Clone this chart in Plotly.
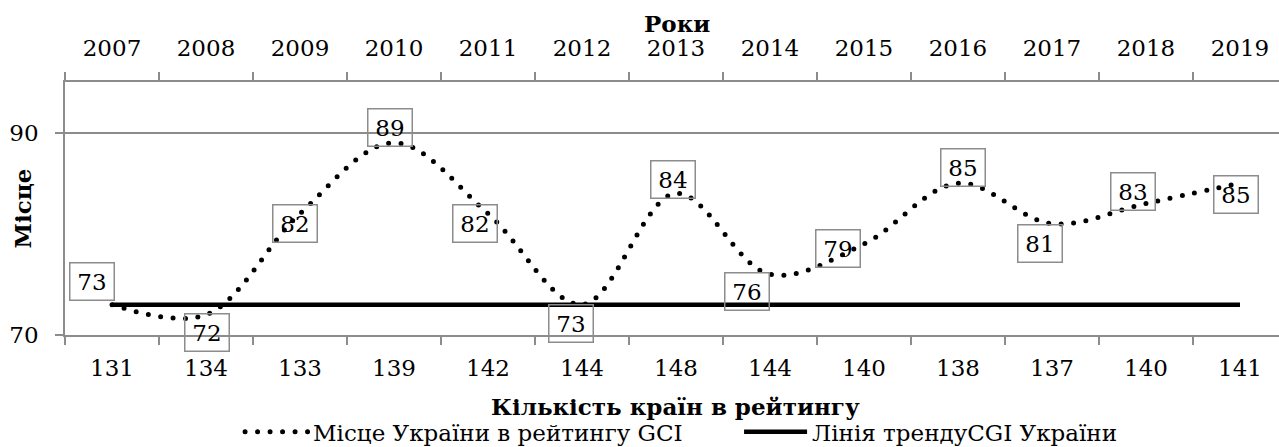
import plotly.graph_objects as go

# ---- data ----
years = ["2007", "2008", "2009", "2010", "2011", "2012", "2013",
         "2014", "2015", "2016", "2017", "2018", "2019"]
countries_in_rating = ["131", "134", "133", "139", "142", "144", "148",
                       "144", "140", "138", "137", "140", "141"]
gci_rank = [73, 72, 82, 89, 82, 73, 84, 76, 79, 85, 81, 83, 85]
trend_rank = [73, 73, 73, 73, 73, 73, 73, 73, 73, 73, 73, 73, 73]
series_names = ["Місце України в рейтингу GCI", "Лінія трендуCGI України"]
y_ticks = [70, 90]

# ---- label placement (screen px offsets, style only) ----
label_dx = [-20, 1, -5, -4, -13, -11, -3, -23, -26, 5, -12, -13, -4]
label_dy = [-23, 18, 10, -15, 10, 19, -14, 17, 5, -16, 20, -12, 11]

FONT = "DejaVu Serif"
FS = 23
GRAY = "#8c8c8c"

fig = go.Figure()
fig.add_trace(go.Scatter(
    x=years, y=gci_rank, name=series_names[0], mode="lines",
    line=dict(color="black", width=5, dash="5px,7.5px", shape="spline", smoothing=1),
    xaxis="x", yaxis="y", hoverinfo="skip",
))
fig.add_trace(go.Scatter(
    x=years, y=trend_rank, name=series_names[1], mode="lines",
    line=dict(color="black", width=4.5),
    xaxis="x2", yaxis="y", hoverinfo="skip",
))

for i, (v, dx, dy) in enumerate(zip(gci_rank, label_dx, label_dy)):
    fig.add_annotation(
        x=i, y=v, xref="x", yref="y", text=str(v), showarrow=False,
        xshift=dx, yshift=-dy, width=40, height=33,
        bordercolor=GRAY, borderwidth=1.5, borderpad=1.5,
        font=dict(family=FONT, size=FS, color="black"),
    )

# axis titles
fig.add_annotation(text="<b>Роки</b>", xref="paper", yref="paper", x=0.504, y=1.23,
                   showarrow=False, xanchor="center", yanchor="middle",
                   font=dict(family=FONT, size=FS, color="black"))
fig.add_annotation(text="<b>Кількість країн в рейтингу</b>", xref="paper", yref="paper",
                   x=0.503, y=-0.281, showarrow=False, xanchor="center", yanchor="middle",
                   font=dict(family=FONT, size=FS, color="black"))
fig.add_annotation(text="<b>Місце</b>", xref="paper", yref="paper", x=-0.0354, y=0.50,
                   textangle=-90, showarrow=False, xanchor="center", yanchor="middle",
                   font=dict(family=FONT, size=FS, color="black"))

axis_common = dict(
    type="category", categoryorder="array", categoryarray=years,
    tickson="boundaries", ticks="outside", ticklen=8, tickwidth=1.5, tickcolor=GRAY,
    showline=True, linecolor=GRAY, linewidth=1.5, showgrid=False, automargin=False,
    range=[-0.5, 12.415], tickfont=dict(family=FONT, size=FS, color="black"),
)

fig.update_layout(
    width=1279, height=447,
    margin=dict(l=65, r=0, t=82, b=112, pad=0, autoexpand=False),
    paper_bgcolor="white", plot_bgcolor="white",
    font=dict(family=FONT, size=FS, color="black"),
    xaxis=dict(**axis_common, tickvals=years, ticktext=countries_in_rating,
               ticklabelstandoff=12),
    xaxis2=dict(**axis_common, tickvals=years, ticktext=years,
                overlaying="x", side="top", matches="x", ticklabelstandoff=15),
    yaxis=dict(
        range=[70, 95], tickvals=y_ticks, ticks="outside", ticklen=8, tickwidth=1.5,
        tickcolor=GRAY, showline=True, linecolor=GRAY, linewidth=1.5, automargin=False,
        showgrid=True, gridcolor=GRAY, gridwidth=1.5, zeroline=False,
        tickfont=dict(family=FONT, size=FS, color="black"), ticklabelstandoff=12,
    ),
    legend=dict(
        orientation="h", xref="container", yref="container",
        x=0.1877, xanchor="left", y=0.034, yanchor="middle",
        itemwidth=63, entrywidth=421, font=dict(family=FONT, size=FS),
        bgcolor="rgba(0,0,0,0)", tracegroupgap=0,
    ),
    showlegend=True,
)

post = """
(function(){
  document.documentElement.style.margin = '0';
  document.body.style.margin = '0';
  document.body.style.padding = '0';
  function fix(){
    document.querySelectorAll('path.js-line').forEach(function(p){
      var d = p.style.strokeDasharray;
      if (d && d !== 'none' && d.indexOf('5px') !== -1) {
        p.style.strokeLinecap = 'round';
        p.style.strokeDasharray = '0px, 12.5px';
      }
    });
  }
  fix();
  setTimeout(fix, 50);
  var gd = document.querySelector('.plotly-graph-div');
  if (gd && gd.on) { gd.on('plotly_afterplot', fix); }
})();
"""

fig.write_html("out.html", post_script=post, config={"displayModeBar": False})
